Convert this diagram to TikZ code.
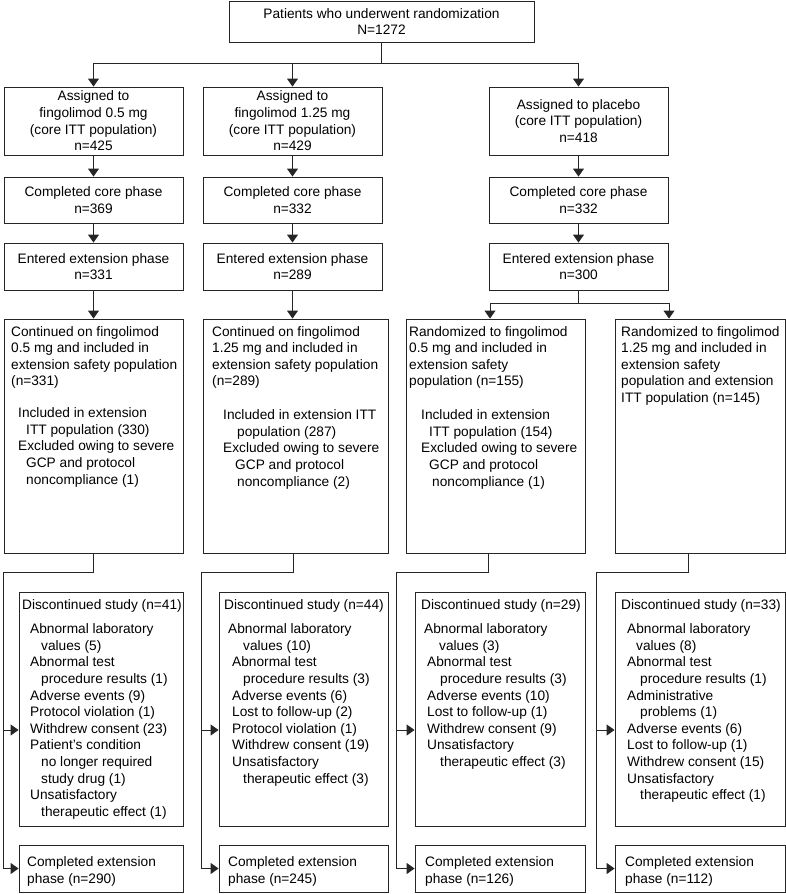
\documentclass[tikz,border=0pt]{standalone}
\usepackage{fontspec}
\setmainfont{Liberation Sans}
\usetikzlibrary{arrows.meta}
\newcommand\figfont{\fontsize{13.7}{16.6}\selectfont}
\begin{document}
\begin{tikzpicture}[x=1pt,y=-1pt,
  box/.style={draw=black!85, line width=0.9pt, inner sep=0pt, align=center, font=\figfont},
  txt/.style={anchor=north west, inner sep=0pt, align=left, font=\figfont},
  link/.style={draw=black!85, line width=0.9pt},
  arr/.style={link, -{Triangle[length=8pt,width=11pt]}}]
\useasboundingbox (0,0) rectangle (786,894);
% top
\node[box, minimum width=305pt, minimum height=41pt] (top) at (381.5,21.5) {Patients who underwent randomization\\N=1272};
% row a
\node[box, minimum width=179pt, minimum height=68pt] (a1) at (93.5,121) {Assigned to\\fingolimod 0.5 mg\\(core ITT population)\\n=425};
\node[box, minimum width=179pt, minimum height=68pt] (a2) at (292.5,121) {Assigned to\\fingolimod 1.25 mg\\(core ITT population)\\n=429};
\node[box, minimum width=179pt, minimum height=68pt] (a3) at (578.5,121) {Assigned to placebo\\(core ITT population)\\n=418};
% row b
\node[box, minimum width=179pt, minimum height=46pt] (b1) at (93.5,200) {Completed core phase\\n=369};
\node[box, minimum width=179pt, minimum height=46pt] (b2) at (292.5,200) {Completed core phase\\n=332};
\node[box, minimum width=179pt, minimum height=46pt] (b3) at (578.5,200) {Completed core phase\\n=332};
% row e
\node[box, minimum width=179pt, minimum height=47pt] (e1) at (93.5,266.5) {Entered extension phase\\n=331};
\node[box, minimum width=179pt, minimum height=47pt] (e2) at (292.5,266.5) {Entered extension phase\\n=289};
\node[box, minimum width=179pt, minimum height=47pt] (e3) at (578.5,266.5) {Entered extension phase\\n=300};
% row c
\node[box, minimum width=179pt, minimum height=234pt] (c1) at (93.5,436) {};
\node[box, minimum width=185pt, minimum height=234pt] (c2) at (295.5,436) {};
\node[box, minimum width=179pt, minimum height=234pt] (c3) at (495.5,436) {};
\node[box, minimum width=170pt, minimum height=234pt] (c4) at (700,436) {};
\node[txt] (c1h) at (11,326) {Continued on fingolimod\\0.5 mg and included in\\extension safety population\\(n=331)};
\node[txt] (c1l) at (18,407.5) {Included in extension\\\hspace*{8pt}ITT population (330)\\Excluded owing to severe\\\hspace*{8pt}GCP and protocol\\\hspace*{8pt}noncompliance (1)};
\node[txt] (c2h) at (212,326) {Continued on fingolimod\\1.25 mg and included in\\extension safety population\\(n=289)};
\node[txt] (c2l) at (223,409.5) {Included in extension ITT\\\hspace*{14pt}population (287)\\Excluded owing to severe\\\hspace*{12pt}GCP and protocol\\\hspace*{14pt}noncompliance (2)};
\node[txt] (c3h) at (409,326) {Randomized to fingolimod\\0.5 mg and included in\\extension safety\\population (n=155)};
\node[txt] (c3l) at (421,409.5) {Included in extension\\\hspace*{8pt}ITT population (154)\\Excluded owing to severe\\\hspace*{8pt}GCP and protocol\\\hspace*{11pt}noncompliance (1)};
\node[txt] (c4h) at (621,326) {Randomized to fingolimod\\1.25 mg and included in\\extension safety\\population and extension\\ITT population (n=145)};
% row d
\node[box, minimum width=164pt, minimum height=234pt] (d1) at (101,709) {};
\node[box, minimum width=169pt, minimum height=234pt] (d2) at (303.5,709) {};
\node[box, minimum width=170pt, minimum height=234pt] (d3) at (500,709) {};
\node[box, minimum width=170pt, minimum height=234pt] (d4) at (700,709) {};
\node[txt] (d1h) at (22,599.5) {Discontinued study (n=41)};
\node[txt] (d1l) at (30,623.5) {Abnormal laboratory\\\hspace*{11pt}values (5)\\Abnormal test\\\hspace*{11pt}procedure results (1)\\Adverse events (9)\\Protocol violation (1)\\Withdrew consent (23)\\Patient’s condition\\\hspace*{11pt}no longer required\\\hspace*{11pt}study drug (1)\\Unsatisfactory\\\hspace*{11pt}therapeutic effect (1)};
\node[txt] (d2h) at (224,599.5) {Discontinued study (n=44)};
\node[txt] (d2l) at (228,623.5) {Abnormal laboratory\\\hspace*{15pt}values (10)\\\hspace*{4pt}Abnormal test\\\hspace*{15pt}procedure results (3)\\\hspace*{4pt}Adverse events (6)\\\hspace*{4pt}Lost to follow-up (2)\\\hspace*{4pt}Protocol violation (1)\\\hspace*{4pt}Withdrew consent (19)\\\hspace*{4pt}Unsatisfactory\\\hspace*{15pt}therapeutic effect (3)};
\node[txt] (d3h) at (421,599.5) {Discontinued study (n=29)};
\node[txt] (d3l) at (424,623.5) {Abnormal laboratory\\\hspace*{15pt}values (3)\\\hspace*{3pt}Abnormal test\\\hspace*{16pt}procedure results (3)\\\hspace*{3pt}Adverse events (10)\\\hspace*{3pt}Lost to follow-up (1)\\\hspace*{3pt}Withdrew consent (9)\\\hspace*{3pt}Unsatisfactory\\\hspace*{16pt}therapeutic effect (3)};
\node[txt] (d4h) at (621,599.5) {Discontinued study (n=33)};
\node[txt] (d4l) at (627,623.5) {Abnormal laboratory\\\hspace*{9pt}values (8)\\Abnormal test\\\hspace*{13pt}procedure results (1)\\Administrative\\\hspace*{13pt}problems (1)\\Adverse events (6)\\Lost to follow-up (1)\\Withdrew consent (15)\\Unsatisfactory\\\hspace*{13pt}therapeutic effect (1)};
% row f
\node[box, minimum width=164pt, minimum height=47pt] (f1) at (101,868.5) {};
\node[box, minimum width=169pt, minimum height=47pt] (f2) at (303.5,868.5) {};
\node[box, minimum width=170pt, minimum height=47pt] (f3) at (500,868.5) {};
\node[box, minimum width=170pt, minimum height=47pt] (f4) at (700,868.5) {};
\node[txt] (f1t) at (27,856.5) {Completed extension\\phase (n=290)};
\node[txt] (f2t) at (228,856.5) {Completed extension\\phase (n=245)};
\node[txt] (f3t) at (425,856.5) {Completed extension\\phase (n=126)};
\node[txt] (f4t) at (625,856.5) {Completed extension\\phase (n=112)};
% connectors top
\coordinate (j0) at (381.5,63);
\draw[link] (top.south) -- (j0);
\draw[arr] (j0) -| (a1.north);
\draw[arr] (j0) -| (a3.north);
\draw[arr] (a2.north |- j0) -- (a2.north);
\foreach \i in {1,2,3} {
  \draw[arr] (a\i.south) -- (b\i.north);
  \draw[arr] (b\i.south) -- (e\i.north);
}
\draw[arr] (e1.south) -- (c1.north);
\draw[arr] (e2.south) -- ([xshift=-3pt]c2.north);
\coordinate (j3) at (578.5,303);
\draw[link] (e3.south) -- (j3);
\draw[arr] (j3) -| ([xshift=-5.5pt]c3.north);
\draw[arr] (j3) -| ([xshift=-31pt]c4.north);
% bottom connectors
\coordinate (h1) at (3,572);
\coordinate (h2) at (201,572);
\coordinate (h3) at (396,572);
\coordinate (h4) at (596,572);
\draw[arr] (c1.south) |- (h1) |- (f1.west);
\draw[arr] ([xshift=-2.5pt]c2.south) |- (h2) |- (f2.west);
\draw[arr] ([xshift=-7.5pt]c3.south) |- (h3) |- (f3.west);
\draw[arr] ([xshift=-12pt]c4.south) |- (h4) |- (f4.west);
\foreach \i/\x in {1/3,2/201,3/396,4/596} {
  \coordinate (v\i) at (\x,730);
  \draw[arr] (v\i) -- (v\i -| d\i.west);
}
\end{tikzpicture}
\end{document}
